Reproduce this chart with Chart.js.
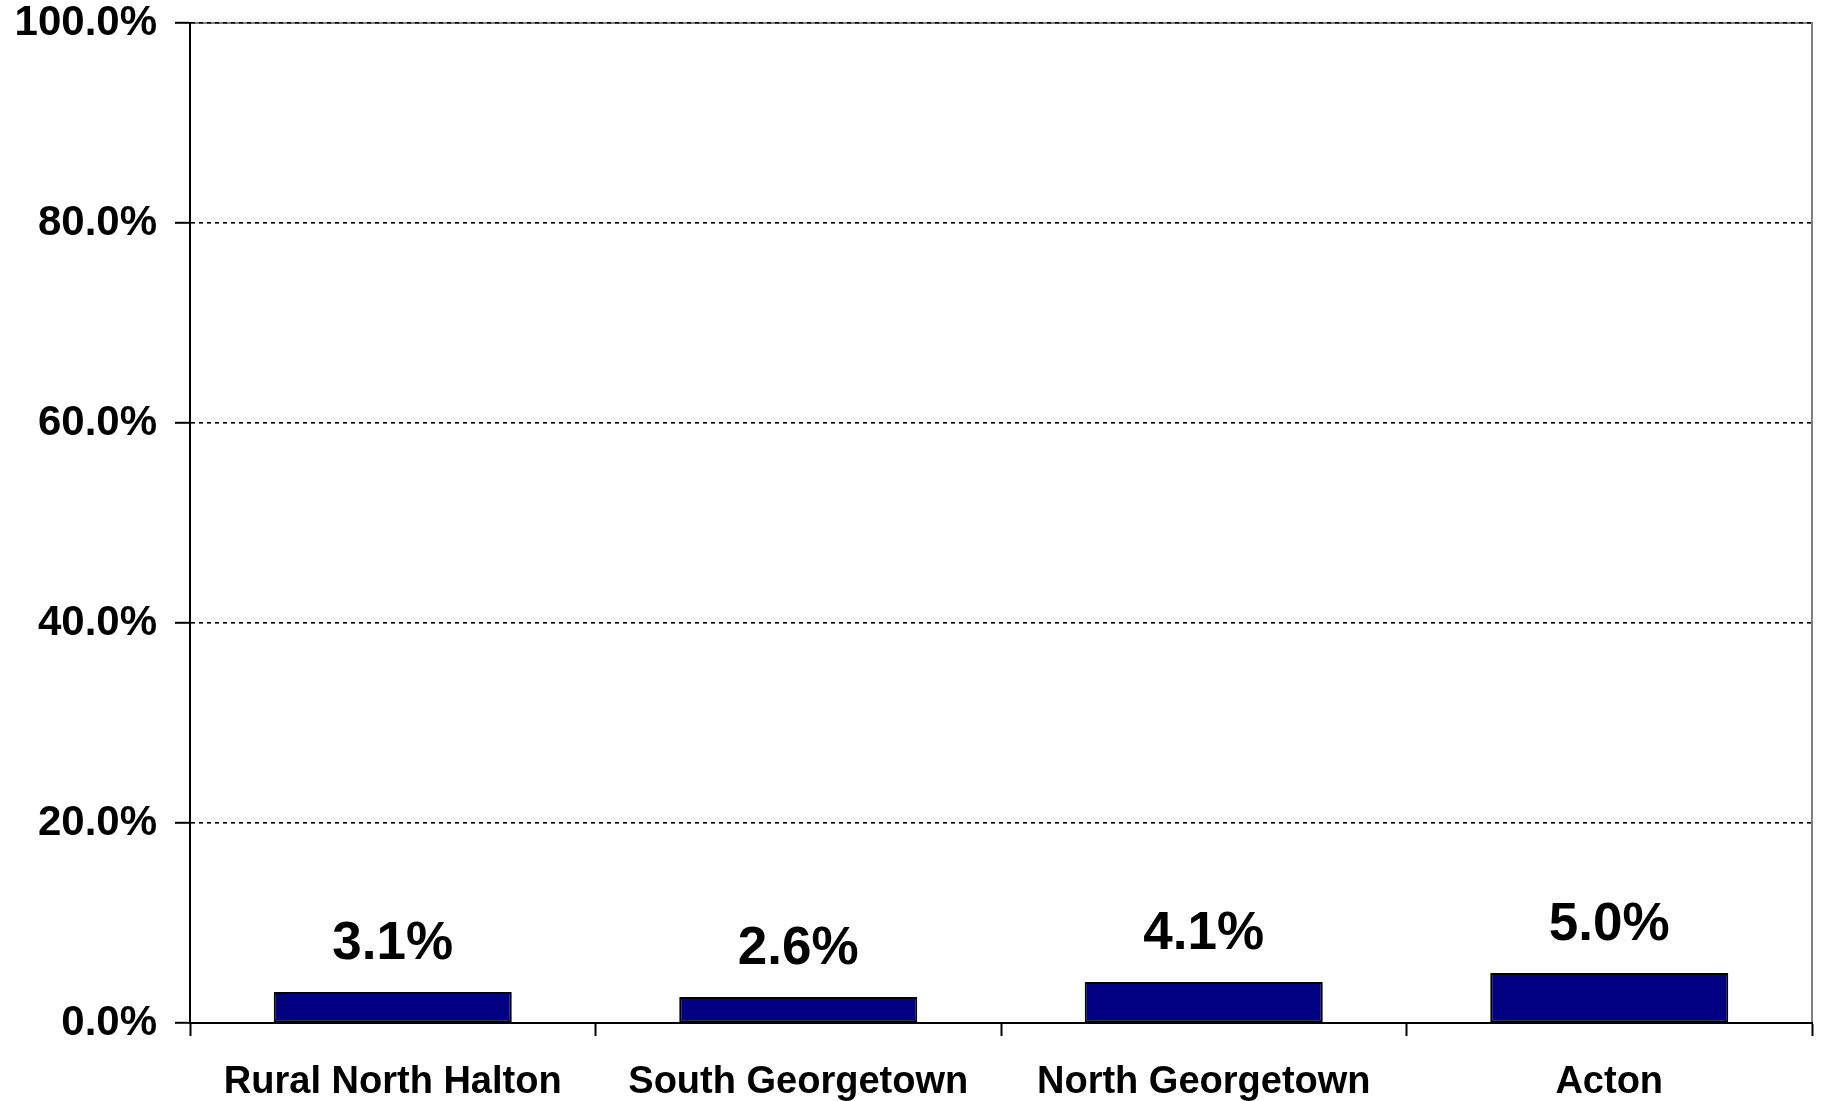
<!DOCTYPE html>
<html>
<head>
<meta charset="utf-8">
<script src="https://cdn.jsdelivr.net/npm/chart.js@4/dist/chart.umd.min.js"></script>
<style>
  html, body { margin: 0; padding: 0; background: #ffffff; }
  #wrap { width: 1823px; height: 1101px; position: relative; }
</style>
</head>
<body>
<div id="wrap"><canvas id="c" width="1823" height="1101"></canvas></div>
<script>
const categories = ["Rural North Halton", "South Georgetown", "North Georgetown", "Acton"];
const values = [3.1, 2.6, 4.1, 5.0];
const valueLabels = ["3.1%", "2.6%", "4.1%", "5.0%"];
const yTickValues = [0, 20, 40, 60, 80, 100];

const FONT = "'Liberation Sans', Arial, sans-serif";

const frameBorder = {
  id: 'frameBorder',
  beforeDraw(chart) {
    const {ctx, chartArea: a} = chart;
    ctx.save();
    ctx.strokeStyle = '#808080';
    ctx.lineWidth = 2;
    ctx.beginPath();
    ctx.moveTo(a.left, a.top);
    ctx.lineTo(a.right, a.top);
    ctx.lineTo(a.right, a.bottom);
    ctx.stroke();
    ctx.restore();
  }
};

const barLabels = {
  id: 'barLabels',
  afterDatasetsDraw(chart) {
    const {ctx} = chart;
    const meta = chart.getDatasetMeta(0);
    ctx.save();
    ctx.fillStyle = '#000';
    ctx.font = 'bold 53px ' + FONT;
    ctx.textAlign = 'center';
    ctx.textBaseline = 'alphabetic';
    meta.data.forEach((bar, i) => {
      ctx.fillText(valueLabels[i], bar.x, bar.y - 33);
    });
    ctx.restore();
  }
};

new Chart(document.getElementById('c'), {
  type: 'bar',
  data: {
    labels: categories,
    datasets: [{
      data: values,
      backgroundColor: '#000080',
      borderColor: '#000000',
      borderWidth: 2,
      borderSkipped: false,
      barPercentage: 0.587,
      categoryPercentage: 1.0
    }]
  },
  options: {
    responsive: false,
    animation: false,
    devicePixelRatio: 1,
    layout: { padding: { top: 23, right: 11, left: 0, bottom: 0 } },
    plugins: { legend: { display: false }, tooltip: { enabled: false } },
    scales: {
      x: {
        offset: true,
        grid: {
          display: true,
          drawOnChartArea: false,
          drawTicks: true,
          offset: true,
          tickLength: 13,
          tickColor: '#000',
          tickWidth: 2,
          color: '#000'
        },
        border: { display: true, color: '#000', width: 2 },
        ticks: {
          color: '#000',
          font: { family: FONT, size: 38, weight: 'bold' },
          padding: 24,
          maxRotation: 0,
          autoSkip: false
        },
        afterFit(scale) {
          scale.height = 78;
          scale.paddingLeft = 0;
          scale.paddingRight = 0;
        }
      },
      y: {
        min: 0,
        max: 100,
        afterBuildTicks(scale) { scale.ticks = yTickValues.map(v => ({ value: v })); },
        grid: {
          color: '#000',
          lineWidth: 1.6,
          drawTicks: true,
          tickLength: 15,
          tickColor: '#000',
          tickWidth: 2,
          tickBorderDash: []
        },
        border: { display: true, color: '#000', width: 2, dash: [4, 4] },
        ticks: {
          color: '#000',
          font: { family: FONT, size: 42, weight: 'bold' },
          padding: 18,
          callback: (v) => Number(v).toFixed(1) + '%'
        },
        afterFit(scale) {
          scale.width = 190;
          scale.paddingTop = 0;
          scale.paddingBottom = 0;
        }
      }
    }
  },
  plugins: [frameBorder, barLabels]
});
</script>
</body>
</html>
